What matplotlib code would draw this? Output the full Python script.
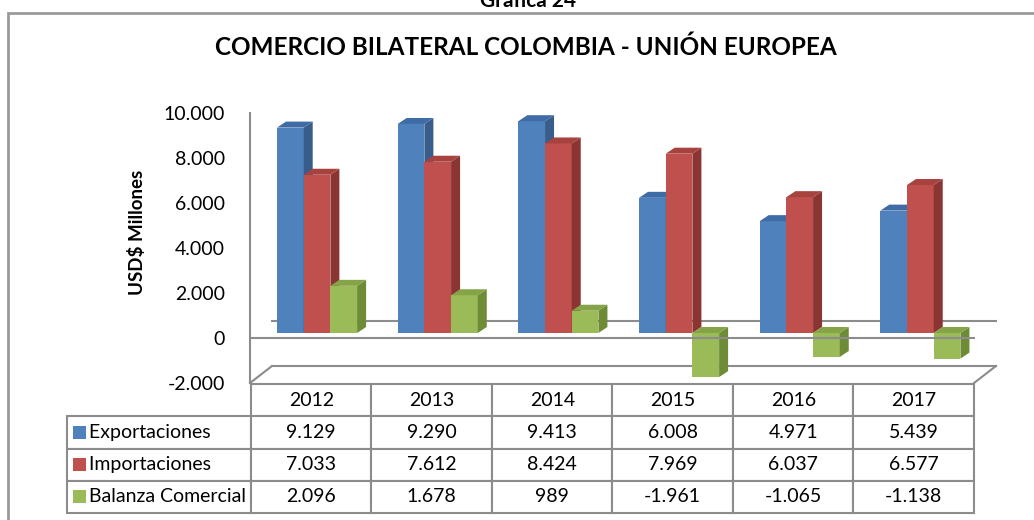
import matplotlib
matplotlib.use("Agg")
import matplotlib.pyplot as plt
from matplotlib.patches import Polygon, Rectangle
import numpy as np

plt.rcParams['font.family'] = ['Lato', 'DejaVu Sans']

# data
years = ['2012', '2013', '2014', '2015', '2016', '2017']
series_names = ['Exportaciones', 'Importaciones', 'Balanza Comercial']
exportaciones = [9129, 9290, 9413, 6008, 4971, 5439]
importaciones = [7033, 7612, 8424, 7969, 6037, 6577]
balanza = [2096, 1678, 989, -1961, -1065, -1138]
yticks = [-2000, 0, 2000, 4000, 6000, 8000, 10000]

front_cols = ['#4F81BD', '#C0504D', '#9BBB59']
side_cols = ['#385D8A', '#8B3533', '#6E8C36']
top_cols = ['#3F6CA6', '#A8423F', '#84A447']
grid_col = '#8C8C8C'


def fmt(v):
    return f"{v:,}".replace(',', '.')


W, H = 1034, 520
fig = plt.figure(figsize=(W / 100, H / 100), dpi=100)

# outer frame (right and bottom edges fall outside the picture)
fig.add_artist(Rectangle((8 / W, -0.05), 1.1, 1 - 13 / H + 0.05, transform=fig.transFigure,
                         fill=False, edgecolor='#9A9A9A', linewidth=2))

fig.text(528 / W, 1 - 1 / H, 'Gráfica 24', ha='center', va='center', fontsize=15, fontweight='bold')
fig.text(526 / W, 1 - 47 / H, 'COMERCIO BILATERAL COLOMBIA - UNIÓN EUROPEA', ha='center', va='center',
         fontsize=17.5, fontweight='bold')

ax = fig.add_axes([250 / W, 1 - 383 / H, 724 / W, 270 / H])
ax.set_xlim(0, 6)
ax.set_ylim(-2000, 10000)
for s in ['top', 'right', 'bottom']:
    ax.spines[s].set_visible(False)
ax.spines['left'].set_color(grid_col)
ax.spines['left'].set_linewidth(1.5)
ax.set_xticks([])
ax.set_yticks(yticks)
ax.set_yticklabels([fmt(v) for v in yticks], fontsize=14)
ax.tick_params(axis='y', length=0, pad=18)
fig.text(137 / W, 1 - 232 / H, 'USD$ Millones', rotation=90, ha='center', va='center',
         fontsize=13.5, fontweight='bold')

# 3d geometry in data units
ux = 6 / 724.0          # data units per px (x)
uy = 12000 / 270.0      # data units per px (y)
wall_dx, wall_dy = 22 * ux, 17 * uy
shx, shy = 6.5 * ux, 5 * uy
ddx, ddy = 9 * ux, 6 * uy
bw = 26.7 * ux
start = 27 * ux - shx

# back wall / floor lines
ax.plot([wall_dx, 6 + wall_dx], [wall_dy, wall_dy], color=grid_col, lw=1.5, zorder=1, clip_on=False)
ax.plot([wall_dx, 6 + wall_dx], [-2000 + wall_dy] * 2, color=grid_col, lw=1.5, zorder=1, clip_on=False)
ax.plot([0, wall_dx], [-2000, -2000 + wall_dy], color=grid_col, lw=1.5, zorder=1, clip_on=False)
ax.plot([6, 6 + wall_dx], [-2000, -2000 + wall_dy], color=grid_col, lw=1.5, zorder=1, clip_on=False)

series = [exportaciones, importaciones, balanza]
z = 2
for i in range(len(years)):
    for k, vals in enumerate(series):
        v = vals[i]
        x0 = i + start + shx + k * bw
        x1 = x0 + bw
        top = shy + max(v, 0)
        bot = shy + min(v, 0)
        ax.bar(x0, v, width=bw, bottom=shy, align='edge', color=front_cols[k], edgecolor='none', zorder=z)
        ax.add_patch(Polygon([(x1, bot), (x1 + ddx, bot + ddy), (x1 + ddx, top + ddy), (x1, top)],
                             closed=True, facecolor=side_cols[k], edgecolor='none', zorder=z))
        ax.add_patch(Polygon([(x0, top), (x0 + ddx, top + ddy), (x1 + ddx, top + ddy), (x1, top)],
                             closed=True, facecolor=top_cols[k], edgecolor='none', zorder=z))
        z += 1

# front zero line over bars
ax.plot([0, 6], [0, 0], color=grid_col, lw=1.5, zorder=z + 1, clip_on=False)

# data table
tax = fig.add_axes([67 / W, 1 - 513 / H, 907 / W, 129 / H])
tax.axis('off')
cell_text = [[''] + years]
for name, vals in zip(series_names, series):
    cell_text.append(['    ' + name] + [fmt(v) for v in vals])
col_w = [184 / 907] + [723 / 6 / 907] * 6
tbl = tax.table(cellText=cell_text, colWidths=col_w, bbox=[0, 0, 1, 1], cellLoc='center')
tbl.auto_set_font_size(False)
tbl.set_fontsize(14)
for (r, c), cell in tbl.get_celld().items():
    cell.set_edgecolor(grid_col)
    cell.set_linewidth(1.5)
    if r == 0 and c == 0:
        cell.visible_edges = ''
    if c == 0 and r > 0:
        cell.set_text_props(ha='left')
        cell.PAD = 0.01

# legend keys in table
for k in range(3):
    yc = 1 - (1.5 + k) / 4
    tax.add_patch(Rectangle((6 / 907, yc - 6.5 / 129), 13 / 907, 13 / 129, transform=tax.transAxes,
                            facecolor=front_cols[k], edgecolor='none', zorder=5))

fig.savefig('out.png', dpi=100)
